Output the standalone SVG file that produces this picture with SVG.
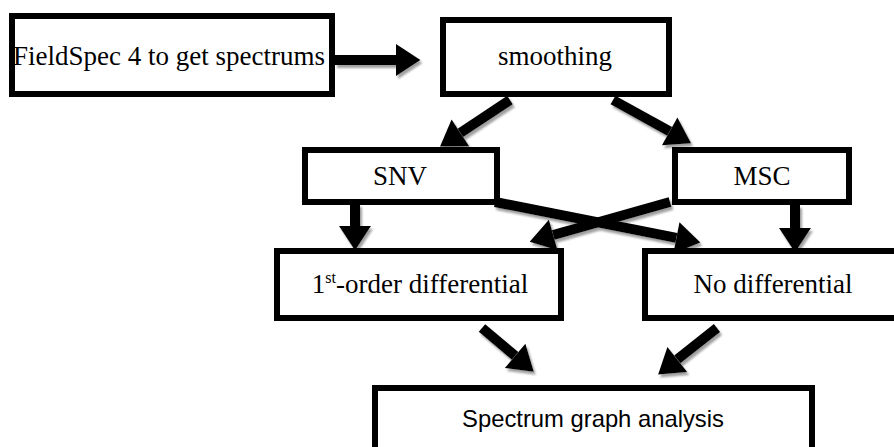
<svg xmlns="http://www.w3.org/2000/svg" width="894" height="447" viewBox="0 0 894 447">
  <style>
    .box { fill: #fff; stroke: #000; stroke-width: 6; }
    .lbl { font-family: "Liberation Serif", "Times New Roman", serif; font-size: 27px; fill: #000; text-anchor: middle; }
    .sans { font-family: "Liberation Sans", Arial, sans-serif; font-size: 23.8px; fill: #000; text-anchor: middle; }
    .arr { fill: none; stroke: #000; stroke-width: 10; marker-end: url(#head); }
  </style>
  <defs>
    <marker id="head" markerUnits="userSpaceOnUse" markerWidth="30" markerHeight="34" viewBox="0 -16 24 32" refX="0" refY="0" orient="auto">
      <path d="M0,-15 L23,0 L0,15 Z" fill="#000"/>
    </marker>
    <filter id="shadow" x="-20%" y="-20%" width="140%" height="140%">
      <feDropShadow dx="2" dy="3" stdDeviation="1.2" flood-color="#777" flood-opacity="0.7"/>
    </filter>
  </defs>
  <rect width="894" height="447" fill="#fff"/>

  <g id="connectors" filter="url(#shadow)">
    <path class="arr" d="M335,60 L396,60"/>
    <path class="arr" d="M510,100 L460.4,132.9"/>
    <path class="arr" d="M613,100 L669.7,131.4"/>
    <path class="arr" d="M355,204 L355,226"/>
    <path class="arr" d="M795,205 L795,228"/>
    <path class="arr" d="M495,202 L676.4,237.8"/>
    <path class="arr" d="M670,202 L553.2,235"/>
    <path class="arr" d="M482,328 L515.1,355.9"/>
    <path class="arr" d="M717,328 L677.3,359.4"/>
  </g>

  <g id="fieldspec">
    <rect class="box" x="12" y="16" width="320" height="78"/>
    <text class="lbl" x="169" y="65">FieldSpec 4 to get spectrums</text>
  </g>
  <g id="smoothing">
    <rect class="box" x="443" y="20" width="226" height="74"/>
    <text class="lbl" x="555" y="65">smoothing</text>
  </g>
  <g id="snv">
    <rect class="box" x="305" y="150" width="192" height="52"/>
    <text class="lbl" x="400" y="185">SNV</text>
  </g>
  <g id="msc">
    <rect class="box" x="675" y="150" width="174" height="52"/>
    <text class="lbl" x="762" y="185">MSC</text>
  </g>
  <g id="first-order">
    <rect class="box" x="277" y="251" width="284" height="67"/>
    <text class="lbl" x="420" y="293">1<tspan font-size="16" dy="-10">st</tspan><tspan dy="10">-order differential</tspan></text>
  </g>
  <g id="no-differential">
    <rect class="box" x="645" y="251" width="260" height="67"/>
    <text class="lbl" x="773" y="293">No differential</text>
  </g>
  <g id="spectrum">
    <rect class="box" x="375" y="388" width="437" height="80"/>
    <text class="sans" x="593" y="427">Spectrum graph analysis</text>
  </g>
</svg>
